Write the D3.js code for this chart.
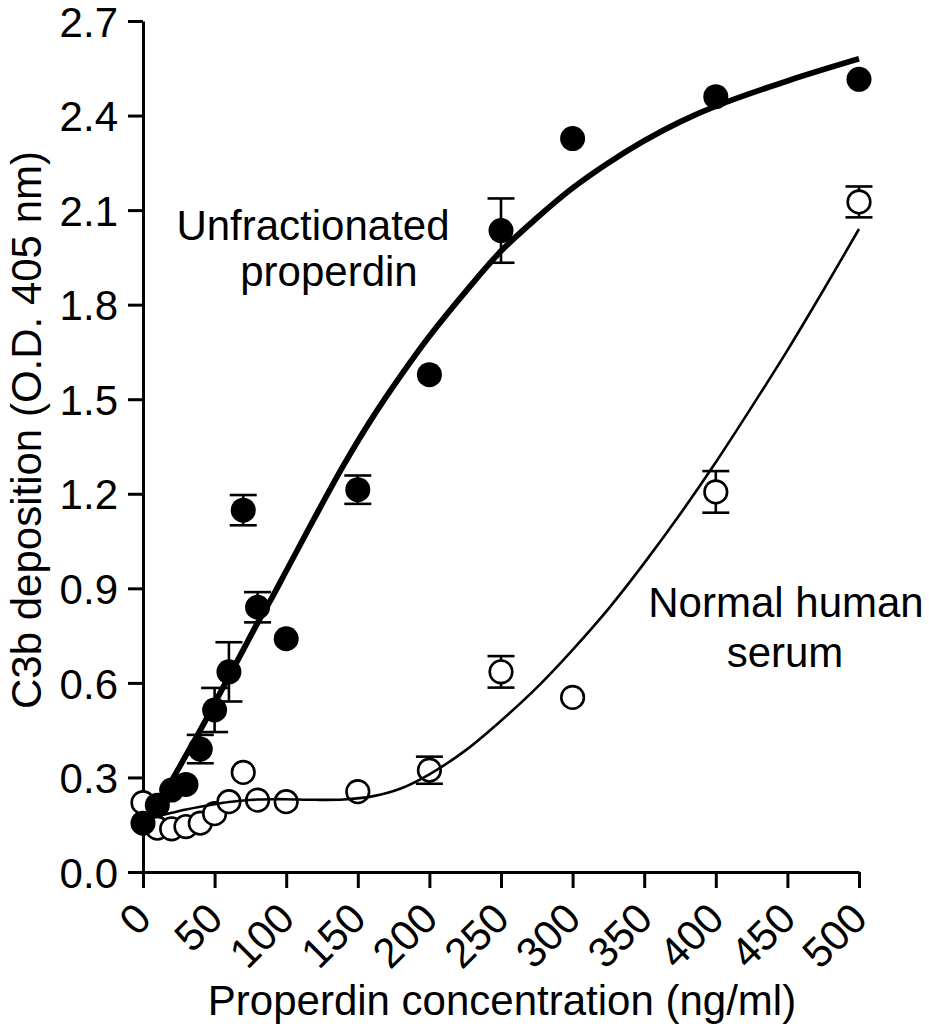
<!DOCTYPE html>
<html>
<head>
<meta charset="utf-8">
<script src="https://cdn.jsdelivr.net/npm/d3@7"></script>
<style>
  html, body { margin: 0; padding: 0; background: #fff; }
  svg { display: block; }
  text { font-family: "Liberation Sans", Arial, Helvetica, sans-serif; fill: #000; }
</style>
</head>
<body>
<script>
// ---- data ----
const conc = [0, 10, 20, 30, 40, 50, 60, 70, 80, 100, 150, 200, 250, 300, 400, 500];
const unfracMean = [0.155, 0.212, 0.26, 0.278, 0.39, 0.514, 0.635, 1.148, 0.84, 0.74, 1.213, 1.578, 2.035, 2.327, 2.46, 2.515];
const unfracErr  = [0, 0, 0, 0, 0.045, 0.07, 0.094, 0.048, 0.048, 0, 0.045, 0, 0.102, 0, 0, 0];
const nhsMean = [0.22, 0.139, 0.137, 0.144, 0.155, 0.185, 0.223, 0.316, 0.228, 0.223, 0.255, 0.323, 0.635, 0.554, 1.206, 2.126];
const nhsErr  = [0, 0, 0, 0, 0, 0, 0, 0, 0, 0, 0, 0.043, 0.05, 0, 0.066, 0.049];

// fitted curves
const unfracFitX = [0, 10, 20, 30, 40, 50, 60, 70, 80, 90, 100, 120, 140, 160, 180, 200, 225, 250, 275, 300, 325, 350, 375, 400, 450, 500];
const unfracFitY = [0.15, 0.215, 0.29, 0.37, 0.45, 0.535, 0.62, 0.705, 0.79, 0.87, 0.955, 1.125, 1.29, 1.44, 1.575, 1.70, 1.84, 1.97, 2.075, 2.17, 2.25, 2.32, 2.38, 2.43, 2.51, 2.58];
const nhsFitX = [0, 10, 20, 30, 40, 50, 60, 70, 80, 90, 100, 120, 140, 160, 180, 200, 225, 250, 275, 300, 325, 350, 375, 400, 425, 450, 475, 500];
const nhsFitY = [0.175, 0.178, 0.188, 0.198, 0.207, 0.215, 0.222, 0.227, 0.23, 0.231, 0.231, 0.229, 0.23, 0.24, 0.265, 0.31, 0.385, 0.48, 0.585, 0.705, 0.835, 0.98, 1.135, 1.30, 1.475, 1.655, 1.845, 2.04];

const xTicks = [0, 50, 100, 150, 200, 250, 300, 350, 400, 450, 500];
const yTicks = [0, 0.3, 0.6, 0.9, 1.2, 1.5, 1.8, 2.1, 2.4, 2.7];

const labels = {
  xTitle: "Properdin concentration (ng/ml)",
  yTitle: "C3b deposition (O.D. 405 nm)",
  unfrac: ["Unfractionated", "properdin"],
  nhs: ["Normal human", "serum"]
};

// ---- drawing ----
const W = 929, H = 1034;
const FS = 42;
const svg = d3.select("body").append("svg").attr("width", W).attr("height", H);

const x = d3.scaleLinear().domain([0, 500]).range([143, 859]);
const y = d3.scaleLinear().domain([0, 2.7]).range([872, 21]);

// axes
const xAxis = svg.append("g").attr("transform", `translate(0,${y(0)})`)
  .call(d3.axisBottom(x).tickValues(xTicks).tickSize(16).tickSizeOuter(0).tickFormat(d3.format("d")));
xAxis.selectAll("text")
  .attr("x", 0).attr("y", 0).attr("dy", 0)
  .attr("text-anchor", "end")
  .attr("transform", "translate(10,49) rotate(-45)")
  .style("font-size", FS + "px");

const yAxis = svg.append("g").attr("transform", `translate(${x(0)},0)`)
  .call(d3.axisLeft(y).tickValues(yTicks).tickSize(15).tickSizeOuter(0).tickPadding(10).tickFormat(d3.format(".1f")));
yAxis.selectAll("text").style("font-size", FS + "px").attr("dy", "0.36em");

svg.selectAll(".domain, .tick line").attr("stroke", "#000").attr("stroke-width", 3);

// titles
svg.append("text").attr("x", 502).attr("y", 1015).attr("text-anchor", "middle")
  .style("font-size", FS + "px").text(labels.xTitle);
svg.append("text").attr("transform", "translate(41,430) rotate(-90)").attr("text-anchor", "middle")
  .style("font-size", FS + "px").text(labels.yTitle);

// annotations
svg.append("text").attr("x", 313).attr("y", 240).attr("text-anchor", "middle").style("font-size", FS + "px").text(labels.unfrac[0]);
svg.append("text").attr("x", 329).attr("y", 286).attr("text-anchor", "middle").style("font-size", FS + "px").text(labels.unfrac[1]);
svg.append("text").attr("x", 786).attr("y", 617).attr("text-anchor", "middle").style("font-size", FS + "px").text(labels.nhs[0]);
svg.append("text").attr("x", 785).attr("y", 667).attr("text-anchor", "middle").style("font-size", FS + "px").text(labels.nhs[1]);

const unfrac = conc.map((c, i) => ({ c, m: unfracMean[i], e: unfracErr[i] }));
const nhs = conc.map((c, i) => ({ c, m: nhsMean[i], e: nhsErr[i] }));
const CAP = 13.5, R = 12.5;

function errorBars(data, g) {
  const d = data.filter(p => p.e > 0);
  g.selectAll("line.v").data(d).join("line").attr("class", "v")
    .attr("x1", p => x(p.c)).attr("x2", p => x(p.c))
    .attr("y1", p => y(p.m + p.e)).attr("y2", p => y(p.m - p.e))
    .attr("stroke", "#000").attr("stroke-width", 2.6);
  g.selectAll("line.t").data(d).join("line").attr("class", "t")
    .attr("x1", p => x(p.c) - CAP).attr("x2", p => x(p.c) + CAP)
    .attr("y1", p => y(p.m + p.e)).attr("y2", p => y(p.m + p.e))
    .attr("stroke", "#000").attr("stroke-width", 2.6);
  g.selectAll("line.b").data(d).join("line").attr("class", "b")
    .attr("x1", p => x(p.c) - CAP).attr("x2", p => x(p.c) + CAP)
    .attr("y1", p => y(p.m - p.e)).attr("y2", p => y(p.m - p.e))
    .attr("stroke", "#000").attr("stroke-width", 2.6);
}

// NHS (open) series
const gN = svg.append("g");
const gNe = gN.append("g"); errorBars(nhs, gNe);
gN.selectAll("circle").data(nhs).join("circle")
  .attr("cx", p => x(p.c)).attr("cy", p => y(p.m)).attr("r", R - 1.2)
  .attr("fill", "#fff").attr("stroke", "#000").attr("stroke-width", 2.6);

// curves
const line = d3.line().x(d => x(d[0])).y(d => y(d[1])).curve(d3.curveCatmullRom.alpha(0.5));
svg.append("path").datum(nhsFitX.map((v, i) => [v, nhsFitY[i]]))
  .attr("d", line).attr("fill", "none").attr("stroke", "#000").attr("stroke-width", 2.6);
svg.append("path").datum(unfracFitX.map((v, i) => [v, unfracFitY[i]]))
  .attr("d", line).attr("fill", "none").attr("stroke", "#000").attr("stroke-width", 5.8);

// Unfractionated (filled) series
const gU = svg.append("g");
const gUe = gU.append("g"); errorBars(unfrac, gUe);
gU.selectAll("circle").data(unfrac).join("circle")
  .attr("cx", p => x(p.c)).attr("cy", p => y(p.m)).attr("r", R)
  .attr("fill", "#000");
</script>
</body>
</html>
